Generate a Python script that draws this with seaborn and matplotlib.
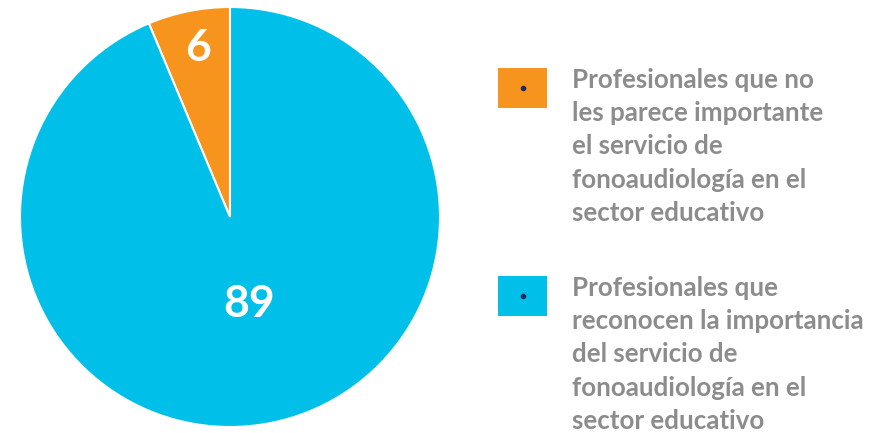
import matplotlib.pyplot as plt
import matplotlib.patches as mpatches
import numpy as np
import seaborn as sns

# datos
categorias = [
    "Profesionales que no\nles parece importante\nel servicio de\nfonoaudiología en el\nsector educativo",
    "Profesionales que\nreconocen la importancia\ndel servicio de\nfonoaudiología en el\nsector educativo",
]
valores = [6, 89]
colores = ["#F7941D", "#00C0EA"]

sns.set_theme(style="white")
plt.rcParams['font.family'] = ['Lato', 'DejaVu Sans']

fig = plt.figure(figsize=(8.94, 4.33), dpi=100)
W, H = 894, 433

# --- pastel ---
ax = fig.add_axes([20 / W, (H - 427) / H, 420 / W, 420 / H])
wedges, _ = ax.pie(valores, colors=colores, startangle=90, counterclock=True,
                   wedgeprops=dict(edgecolor="white", linewidth=1.5))
ax.set_xlim(-1, 1)
ax.set_ylim(-1, 1)
ax.set_aspect('equal')

# etiquetas dentro de cada porción
dist = [0.83, 0.41]
for w, v, d in zip(wedges, valores, dist):
    ang = np.deg2rad((w.theta1 + w.theta2) / 2)
    ax.text(d * np.cos(ang) + 0.01, d * np.sin(ang) - 0.01, str(v), ha='center', va='center',
            color='white', fontsize=32, fontweight='bold')

# --- leyenda manual ---
tops = [68, 276]
for lab, col, top in zip(categorias, colores, tops):
    fig.add_artist(mpatches.Rectangle((498 / W, (H - top - 40) / H), 49 / W, 40 / H,
                                      transform=fig.transFigure, color=col, lw=0))
    fig.add_artist(plt.Line2D([522.5 / W], [(H - top - 20) / H], marker='o',
                              markersize=3, color='#1f2a5a', transform=fig.transFigure))
    fig.text(572 / W, (H - top) / H, lab, ha='left', va='top', color='#8c8c8c',
             fontsize=18.6, fontweight='bold', linespacing=1.46)

fig.savefig("out.png", dpi=100)
